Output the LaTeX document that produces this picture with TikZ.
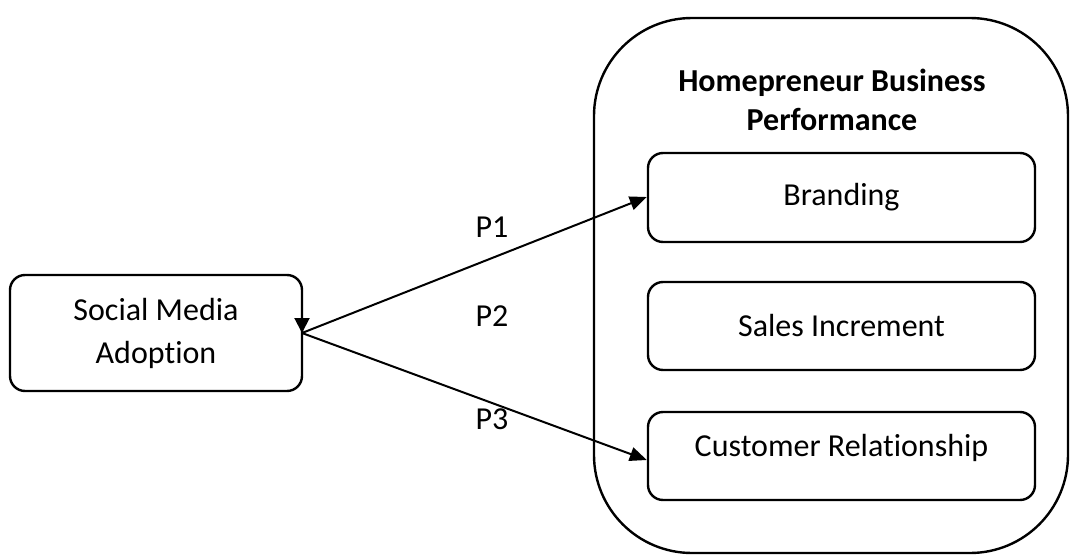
\documentclass[tikz,border=0pt]{standalone}
\usepackage{fontspec}
\setmainfont[Ligatures={NoCommon}]{Carlito}
\usetikzlibrary{arrows.meta}
\begin{document}
\begin{tikzpicture}[x=1pt,y=-1pt,
  box/.style={draw,line width=2.4pt,rounded corners=15pt,font=\fontsize{32}{43}\selectfont,align=center},
  conn/.style={line width=2pt,-{Triangle[length=17pt,width=14pt]}},
  lbl/.style={font=\fontsize{32}{38}\selectfont}]
\useasboundingbox (0,0) rectangle (1072,557);
\draw[line width=2.4pt,rounded corners=98pt] (594,18) rectangle (1068,553);
\node[font=\bfseries\fontsize{32}{39}\selectfont,align=center] (title) at (832,100) {Homepreneur Business\\Performance};
\node[box,minimum width=292pt,minimum height=116pt] (sma) at (156,333) {Social Media\\Adoption};
\node[box,minimum width=387pt,minimum height=89pt] (br) at (841.5,197.5) {Branding};
\node[box,minimum width=387pt,minimum height=88pt] (si) at (841.5,326) {Sales Increment};
\node[box,minimum width=387pt,minimum height=88pt,text depth=22pt] (cr) at (841.5,456) {Customer Relationship};
\coordinate (src) at (302,333);
\draw[conn] (src) -- (br.west |- 0,197);
\draw[conn] (src) -- (cr.west |- 0,460);
\draw[conn,-{Triangle[length=15pt,width=15pt]}] (302,310) -- (src);
\node[lbl] (p1) at (492,227) {P1};
\node[lbl] (p2) at (492,316) {P2};
\node[lbl] (p3) at (492,419) {P3};
\end{tikzpicture}
\end{document}
